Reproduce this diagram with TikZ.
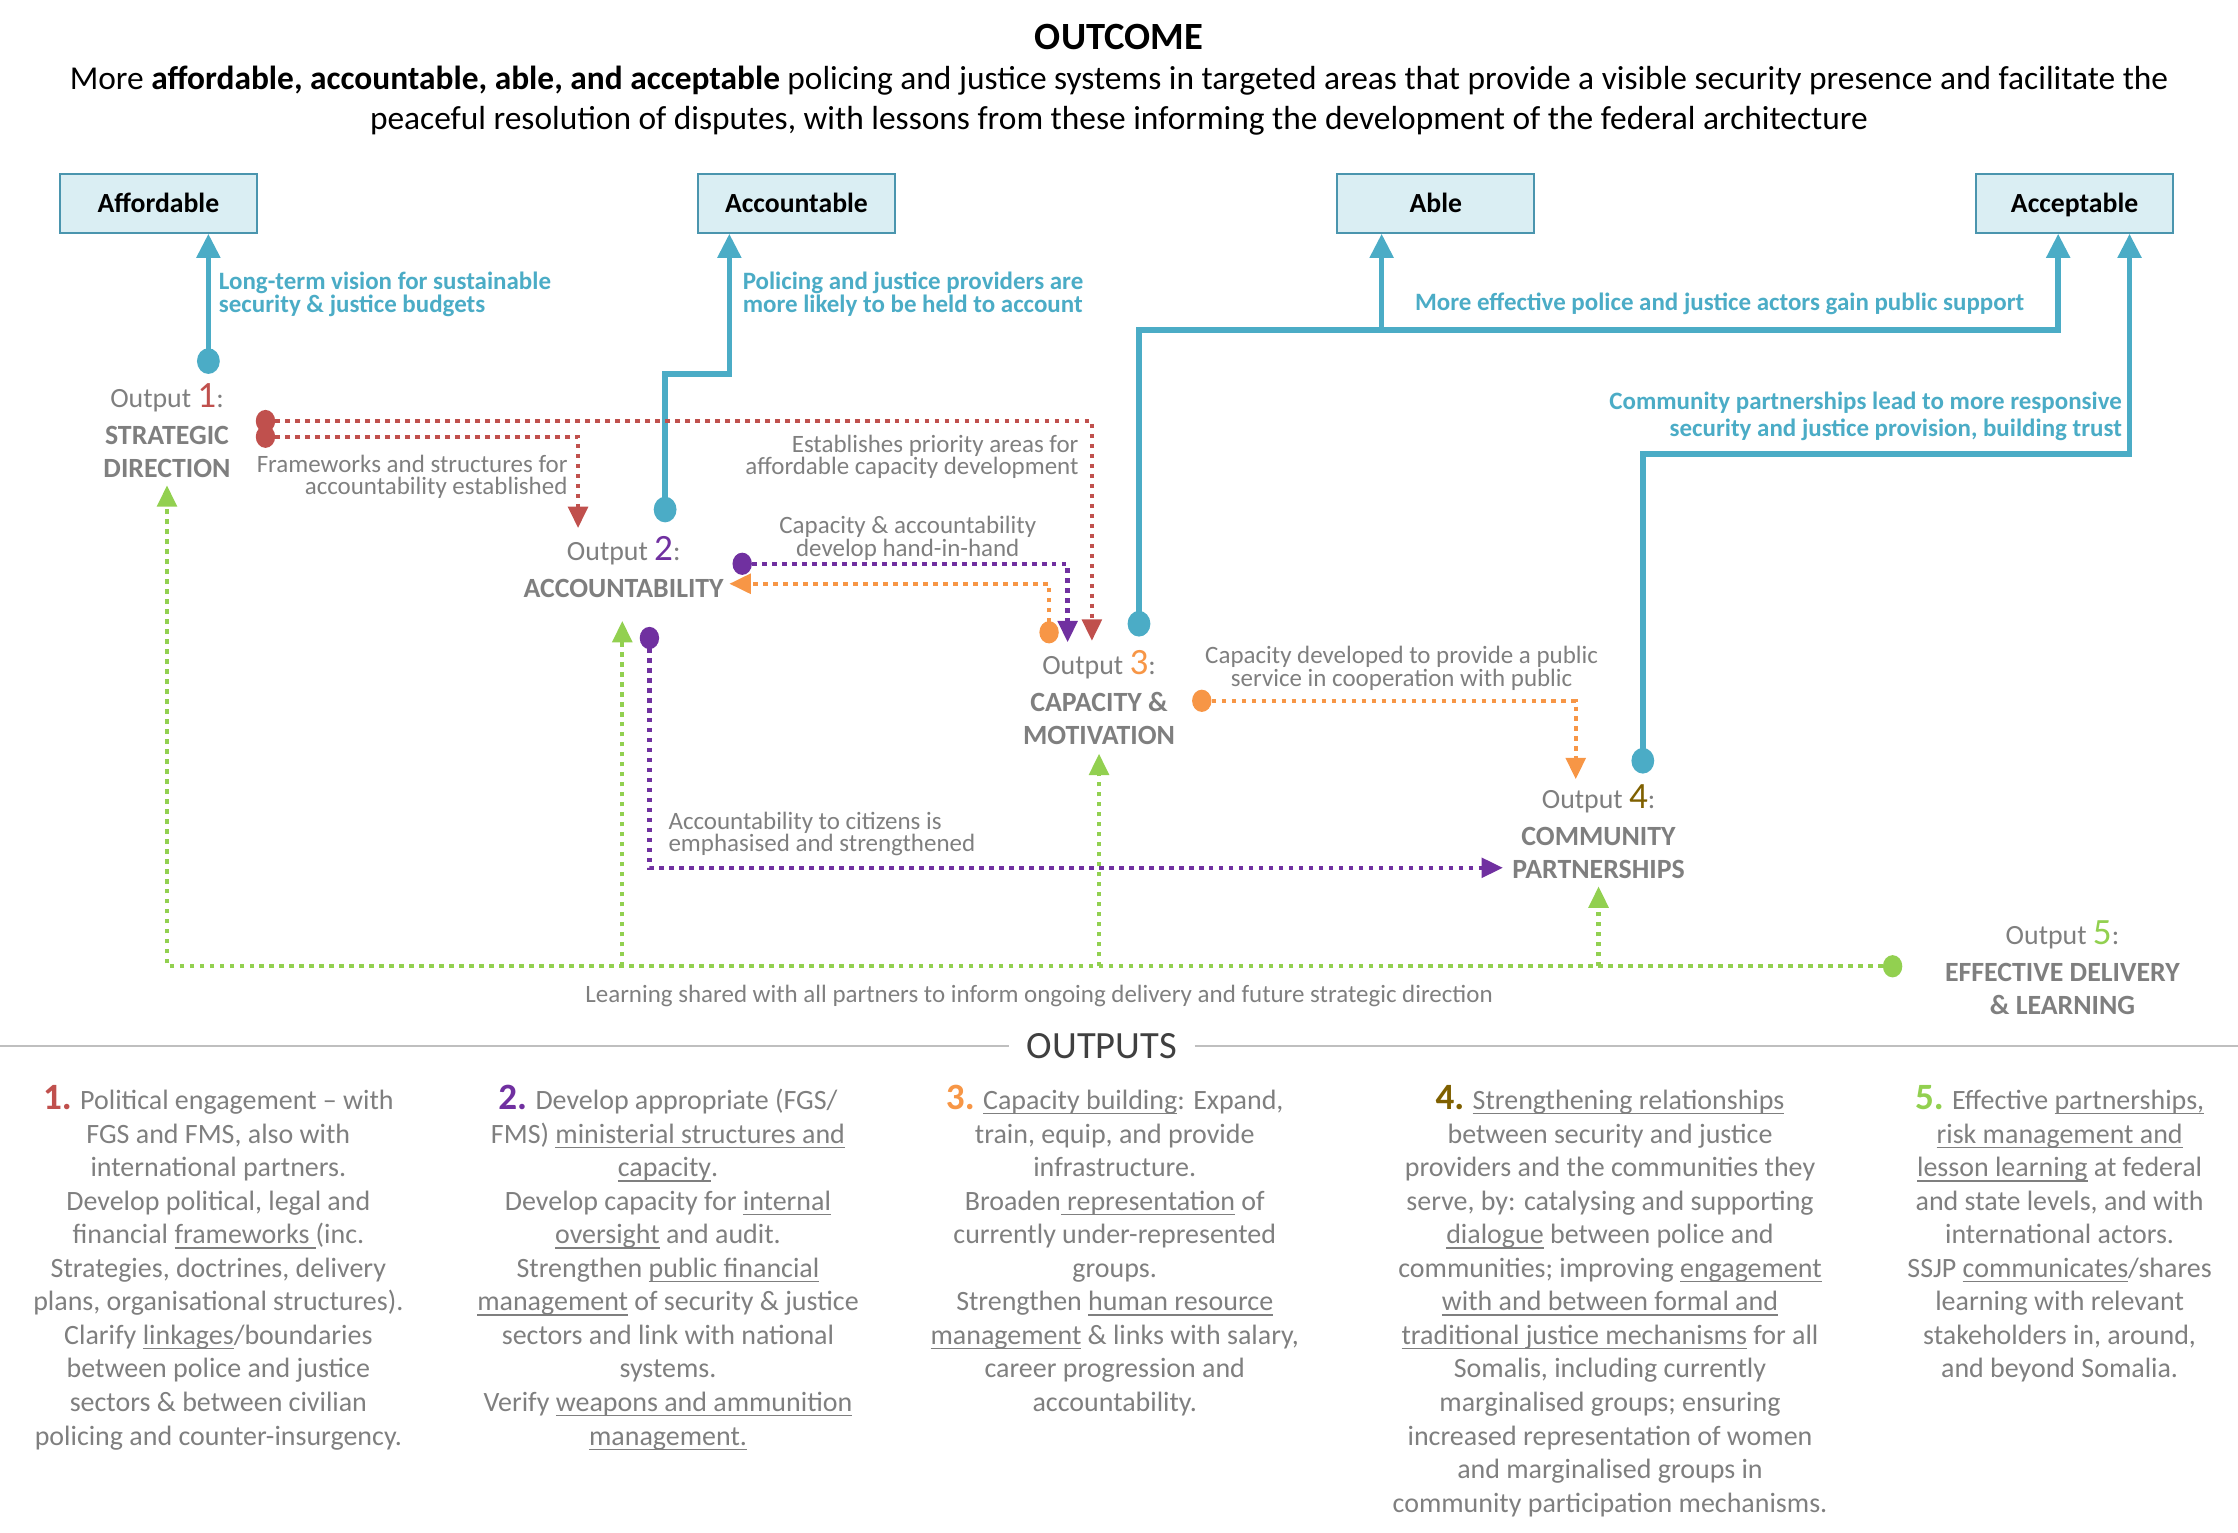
\documentclass[tikz,border=0pt]{standalone}
\usepackage{fontspec}
\setmainfont{Carlito}
\usetikzlibrary{arrows.meta,shapes.geometric}
\definecolor{cblue}{HTML}{4BACC6}
\definecolor{cred}{HTML}{C0504D}
\definecolor{cpurple}{HTML}{7030A0}
\definecolor{corange}{HTML}{F79646}
\definecolor{colive}{HTML}{7F6000}
\definecolor{cgreen}{HTML}{92D050}
\definecolor{cgray}{HTML}{7F7F7F}
\definecolor{cdark}{HTML}{404040}
\definecolor{boxfill}{HTML}{DAEEF3}
\definecolor{boxdraw}{HTML}{4A95AE}
\definecolor{sepgray}{HTML}{BFBFBF}
\newcommand\myts{\rule{0pt}{9pt}}
\newcommand\bignum[2]{{\fontsize{13}{13}\selectfont\bfseries\color{#1}#2}}
\newcommand\outnum[2]{{\fontsize{13}{13}\selectfont\color{#1}#2}}
\newsavebox\myulbox
\newcommand\uline[1]{\sbox\myulbox{#1}\rlap{\rule[-1.7pt]{\wd\myulbox}{0.45pt}}\usebox\myulbox}
\tikzset{
  goal/.style={draw=boxdraw, fill=boxfill, line width=0.7pt, minimum width=69pt, minimum height=20.5pt, inner sep=0, text height=7.75pt, text depth=1.25pt, font=\fontsize{9.7}{11}\selectfont\bfseries},
  bluearrow/.style={draw=cblue, line width=2pt, -{Triangle[length=8.5pt,width=8pt]}},
  bdot/.style={ellipse, fill=cblue, inner sep=0, minimum width=8pt, minimum height=9pt},
  cdot/.style={ellipse, fill=#1, inner sep=0, minimum width=6.8pt, minimum height=7.8pt},
  dline/.style={draw=#1, line width=1.5pt, dash pattern=on 1.6pt off 1.9pt, -{Triangle[length=7.5pt,width=6.8pt]}},
  bluelab/.style={text=cblue, inner sep=0, font=\fontsize{8.75}{8}\selectfont\bfseries},
  graylab/.style={text=cgray, inner sep=0, font=\fontsize{8.75}{7.8}\selectfont},
  outlab/.style={anchor=north, align=center, inner sep=0, text=cgray, font=\fontsize{9.75}{11.5}\selectfont},
  coltext/.style={anchor=north, align=center, inner sep=0, text=cgray, font=\fontsize{9.8}{11.75}\selectfont},
  sepline/.style={draw=sepgray, line width=0.6pt}
}
\begin{document}
\begin{tikzpicture}[x=0.5pt,y=-0.5pt]
\useasboundingbox (0,0) rectangle (1568,1074);
% title
\node[anchor=base, inner sep=0, font=\fontsize{13.5}{16}\selectfont\bfseries] (title) at (784,34.5) {OUTCOME};
\node[anchor=north, align=center, inner sep=0, font=\fontsize{11.7}{14}\selectfont] (sub) at (784,44) {\myts More \textbf{affordable, accountable, able, and acceptable} policing and justice systems in targeted areas that provide a visible security presence and facilitate the\\peaceful resolution of disputes, with lessons from these informing the development of the federal architecture};
% goal boxes
\node[goal] (aff) at (111,142.5) {Affordable};
\node[goal] (acc) at (558,142.5) {Accountable};
\node[goal] (able) at (1006,142.5) {Able};
\node[goal] (acp) at (1453.5,142.5) {Acceptable};
% blue labels
\node[bluelab, anchor=north west, align=left] (l1) at (153,184.7) {\myts Long-term vision for sustainable\\security \& justice budgets};
\node[bluelab, anchor=north west, align=left] (l2) at (520,184.7) {\myts Policing and justice providers are\\more likely to be held to account};
\node[bluelab, anchor=base west] (l3) at (991,217.7) {More effective police and justice actors gain public support};
\node[bluelab, anchor=north east, align=right, font=\fontsize{8.75}{9.5}\selectfont\bfseries] (l4) at (1487,268.7) {\myts Community partnerships lead to more responsive\\security and justice provision, building trust};
% gray labels
\node[graylab, anchor=north east, align=right] (g1) at (398,312.7) {\myts Frameworks and structures for\\accountability established};
\node[graylab, anchor=north east, align=right] (g2) at (756,298.7) {\myts Establishes priority areas for\\affordable capacity development};
\node[graylab, anchor=north, align=center] (g3) at (636,355.7) {\myts Capacity \& accountability\\develop hand-in-hand};
\node[graylab, anchor=north, align=center] (g4) at (982,446.7) {\myts Capacity developed to provide a public\\service in cooperation with public};
\node[graylab, anchor=north west, align=left] (g5) at (468,562.7) {\myts Accountability to citizens is\\emphasised and strengthened};
\node[graylab, anchor=base] (g6) at (728,702.7) {Learning shared with all partners to inform ongoing delivery and future strategic direction};
% outputs
\node[outlab] (o1) at (117,267.3) {\myts Output \outnum{cred}{1}:\\[1.5pt]\textbf{STRATEGIC}\\\textbf{DIRECTION}};
\node[outlab] (o2) at (437,374.3) {\myts Output \outnum{cpurple}{2}:\\[1.5pt]\textbf{ACCOUNTABILITY}};
\node[outlab] (o3) at (770,454.3) {\myts Output \outnum{corange}{3}:\\[1.5pt]\textbf{CAPACITY \&}\\\textbf{MOTIVATION}};
\node[outlab] (o4) at (1120,548.3) {\myts Output \outnum{colive}{4}:\\[1.5pt]\textbf{COMMUNITY}\\\textbf{PARTNERSHIPS}};
\node[outlab] (o5) at (1445,643.3) {\myts Output \outnum{cgreen}{5}:\\[1.5pt]\textbf{EFFECTIVE DELIVERY}\\\textbf{\& LEARNING}};
% blue connectors
\node[bdot] (d1) at (146,253) {};
\draw[bluearrow] (d1.center) -- (d1.center |- aff.south);
\node[bdot] (d2) at (466,357) {};
\coordinate (d2k) at (511,262);
\draw[bluearrow] (d2.center) |- (d2k) -- (d2k |- acc.south);
\node[bdot] (d3) at (798,437) {};
\coordinate (d3k) at (1442,231);
\coordinate (d3b) at (968,231);
\draw[bluearrow] (d3.center) |- (d3k) -- (d3k |- acp.south);
\draw[bluearrow] (d3b) -- (d3b |- able.south);
\node[bdot] (d4) at (1151,533) {};
\coordinate (d4k) at (1492,318);
\draw[bluearrow] (d4.center) |- (d4k) -- (d4k |- acp.south);
% red
\node[cdot=cred] (r1) at (186,295) {};
\node[cdot=cred] (r2) at (186,306) {};
\coordinate (r1k) at (765,295); \coordinate (r1t) at (765,449);
\coordinate (r2k) at (405,306); \coordinate (r2t) at (405,370);
\draw[dline=cred] (r1.center) -- (r1k) -- (r1t);
\draw[dline=cred] (r2.center) -- (r2k) -- (r2t);
% purple
\node[cdot=cpurple] (p1) at (520,395) {};
\coordinate (p1k) at (748,395); \coordinate (p1t) at (748,450);
\draw[dline=cpurple] (p1.center) -- (p1k) -- (p1t);
\node[cdot=cpurple] (p2) at (455,447) {};
\coordinate (p2k) at (455,608); \coordinate (p2t) at (1053,608);
\draw[dline=cpurple] (p2.center) -- (p2k) -- (p2t);
% orange
\node[cdot=corange] (q1) at (735,443) {};
\coordinate (q1k) at (735,409); \coordinate (q1t) at (511,409);
\draw[dline=corange] (q1.center) -- (q1k) -- (q1t);
\node[cdot=corange] (q2) at (842,491) {};
\coordinate (q2k) at (1104,491); \coordinate (q2t) at (1104,546);
\draw[dline=corange] (q2.center) -- (q2k) -- (q2t);
% green
\node[cdot=cgreen] (gr) at (1326,677) {};
\coordinate (gk) at (117,677); \coordinate (gt1) at (117,340);
\draw[dline=cgreen] (gr.center) -- (gk) -- (gt1);
\coordinate (gb2) at (436,677); \coordinate (gt2) at (436,435);
\coordinate (gb3) at (770,677); \coordinate (gt3) at (770,528);
\coordinate (gb4) at (1120,677); \coordinate (gt4) at (1120,621);
\draw[dline=cgreen] (gb2) -- (gt2);
\draw[dline=cgreen] (gb3) -- (gt3);
\draw[dline=cgreen] (gb4) -- (gt4);
% outputs separator
\node[anchor=base, inner xsep=6pt, inner ysep=0, text=cdark, font=\fontsize{13.5}{16}\selectfont] (outs) at (772,741.5) {OUTPUTS};
\coordinate (sepL) at (0,733); \coordinate (sepR) at (1568,733);
\draw[sepline] (sepL) -- (sepL -| outs.west);
\draw[sepline] (outs.east |- sepR) -- (sepR);
% columns
\node[coltext] (c1) at (153,759) {\myts\bignum{cred}{1.} Political engagement -- with\\
FGS and FMS, also with\\
international partners.\\
Develop political, legal and\\
financial \uline{frameworks\ }(inc.\\
Strategies, doctrines, delivery\\
plans, organisational structures).\\
Clarify \uline{linkages}/boundaries\\
between police and justice\\
sectors \& between civilian\\
policing and counter-insurgency.};
\node[coltext] (c2) at (468,759) {\myts\bignum{cpurple}{2.} Develop appropriate (FGS/\\
FMS) \uline{ministerial structures and}\\
\uline{capacity}.\\
Develop capacity for \uline{internal}\\
\uline{oversight} and audit.\\
Strengthen \uline{public financial}\\
\uline{management} of security \& justice\\
sectors and link with national\\
systems.\\
Verify \uline{weapons and ammunition}\\
\uline{management.}};
\node[coltext] (c3) at (781,759) {\myts\bignum{corange}{3.} \uline{Capacity building}: Expand,\\
train, equip, and provide\\
infrastructure.\\
Broaden\uline{\ representation} of\\
currently under-represented\\
groups.\\
Strengthen \uline{human resource}\\
\uline{management} \& links with salary,\\
career progression and\\
accountability.};
\node[coltext] (c4) at (1128,759) {\myts\bignum{colive}{4.} \uline{Strengthening relationships}\\
between security and justice\\
providers and the communities they\\
serve, by: catalysing and supporting\\
\uline{dialogue} between police and\\
communities; improving \uline{engagement}\\
\uline{with and between formal and}\\
\uline{traditional justice mechanisms} for all\\
Somalis, including currently\\
marginalised groups; ensuring\\
increased representation of women\\
and marginalised groups in\\
community participation mechanisms.};
\node[coltext] (c5) at (1443,759) {\myts\bignum{cgreen}{5.} Effective \uline{partnerships,}\\
\uline{risk management and}\\
\uline{lesson learning} at federal\\
and state levels, and with\\
international actors.\\
SSJP \uline{communicates}/shares\\
learning with relevant\\
stakeholders in, around,\\
and beyond Somalia.};
\end{tikzpicture}
\end{document}
